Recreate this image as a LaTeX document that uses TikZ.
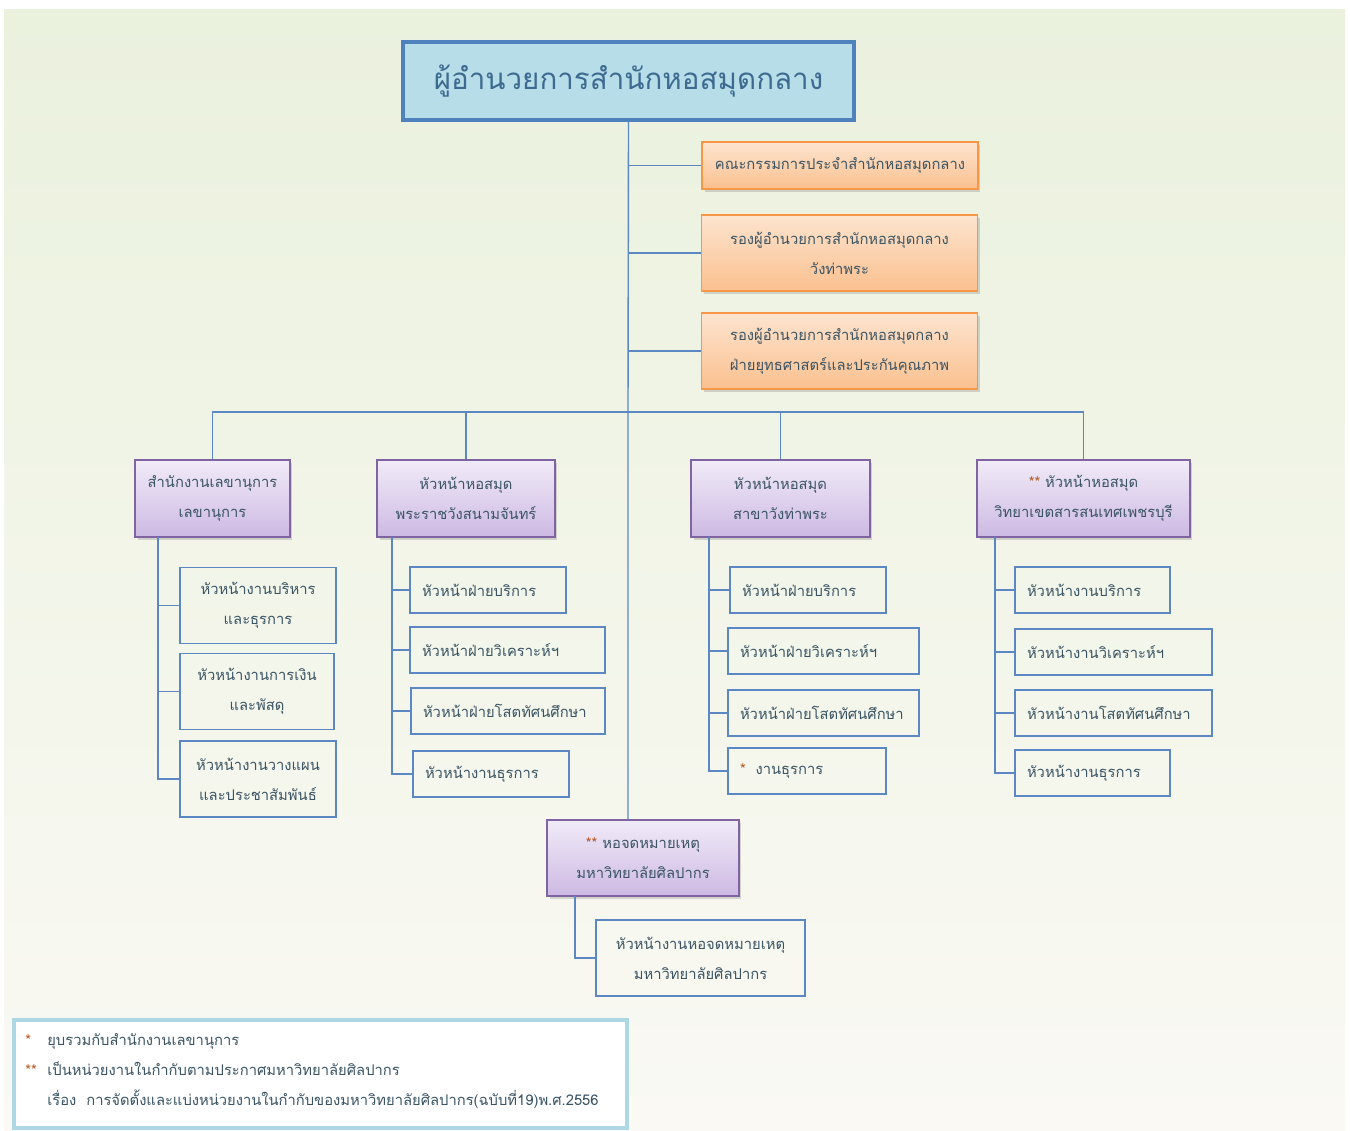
\documentclass[tikz,border=0pt]{standalone}
\usepackage{fontspec}
\setmainfont{Loma}[Script=Thai]
\usetikzlibrary{positioning, shadows}
\definecolor{linkblue}{HTML}{5B88C2}
\definecolor{chiefline}{HTML}{4F81BD}
\definecolor{chieffill}{HTML}{B7DDE8}
\definecolor{chieftext}{HTML}{3D6A90}
\definecolor{boardline}{HTML}{F79646}
\definecolor{boardtop}{HTML}{FDE4CF}
\definecolor{boardbot}{HTML}{FAC08F}
\definecolor{libline}{HTML}{8064A2}
\definecolor{libtop}{HTML}{F1EBF8}
\definecolor{libbot}{HTML}{CDB9E3}
\definecolor{notefrm}{HTML}{ADD8E3}
\definecolor{bgtop}{HTML}{EAF1DD}
\definecolor{bgbot}{HTML}{FAF9F4}
\definecolor{ink}{HTML}{3A5464}
\definecolor{starcol}{HTML}{B5541C}
\tikzset{x=0.02cm, y=-0.02cm,
every node/.style={text=ink, font=\fontsize{8.4}{17}\selectfont},
link/.style={draw=linkblue, line width=0.8pt},
chief/.style={draw=chiefline, line width=1.8pt, fill=chieffill, minimum width=9.02cm, minimum height=1.56cm,
  font=\fontsize{16.8}{20}\selectfont, text=chieftext},
board/.style={draw=boardline, line width=0.8pt, top color=boardtop, bottom color=boardbot, align=center,
  minimum width=5.52cm, drop shadow={shadow xshift=0.05cm, shadow yshift=-0.06cm, opacity=0.3}},
library/.style={draw=libline, line width=0.8pt, top color=libtop, bottom color=libbot, align=center,
  minimum height=1.54cm, drop shadow={shadow xshift=0.05cm, shadow yshift=-0.06cm, opacity=0.3}},
unit/.style={draw=linkblue, line width=0.8pt, inner xsep=0.24cm, align=left, minimum height=0.92cm},
pair/.style={draw=linkblue, line width=0.8pt, align=center, minimum height=1.52cm},
}
\newcommand{\stars}[1]{\textcolor{starcol}{#1}}

\begin{document}
\begin{tikzpicture}
\fill[white] (0,0) rectangle (1350,1131);
\shade[top color=bgtop, bottom color=bgbot] (4,10) rectangle (1345,1131);

\node[chief] (dir) at (628.5,81) {ผู้อำนวยการสำนักหอสมุดกลาง};
\node[board, minimum height=0.94cm] (com) at (840,165.5) {คณะกรรมการประจำสำนักหอสมุดกลาง};
\node[board, minimum height=1.52cm] (dep1) at (839.5,253) {รองผู้อำนวยการสำนักหอสมุดกลาง\\วังท่าพระ};
\node[board, minimum height=1.52cm] (dep2) at (839.5,351) {รองผู้อำนวยการสำนักหอสมุดกลาง\\ฝ่ายยุทธศาสตร์และประกันคุณภาพ};

\node[library, minimum width=3.1cm] (lib1) at (212.5,498.5) {สำนักงานเลขานุการ\\เลขานุการ};
\node[library, minimum width=3.56cm] (lib2) at (466,498.5) {หัวหน้าหอสมุด\\พระราชวังสนามจันทร์};
\node[library, minimum width=3.58cm] (lib3) at (780.5,498.5) {หัวหน้าหอสมุด\\สาขาวังท่าพระ};
\node[library, minimum width=4.26cm] (lib4) at (1083.5,498.5) {\stars{**} หัวหน้าหอสมุด\\วิทยาเขตสารสนเทศเพชรบุรี};
\node[library, minimum width=3.84cm, minimum height=1.52cm] (law) at (643,858) {\stars{**} หอจดหมายเหตุ\\มหาวิทยาลัยศิลปากร};

\node[pair, minimum width=3.12cm] (a1) at (258,605.5) {หัวหน้างานบริหาร\\และธุรการ};
\node[pair, minimum width=3.08cm] (a2) at (257,691.5) {หัวหน้างานการเงิน\\และพัสดุ};
\node[pair, minimum width=3.12cm] (a3) at (258,779) {หัวหน้างานวางแผน\\และประชาสัมพันธ์};

\node[unit, text width=2.64cm] (b1) at (488,590) {หัวหน้าฝ่ายบริการ};
\node[unit, text width=3.42cm] (b2) at (507.5,650) {หัวหน้าฝ่ายวิเคราะห์ฯ};
\node[unit, text width=3.4cm] (b3) at (508,711) {หัวหน้าฝ่ายโสตทัศนศึกษา};
\node[unit, text width=2.64cm] (b4) at (491,774) {หัวหน้างานธุรการ};

\node[unit, text width=2.64cm] (c1) at (808,590) {หัวหน้าฝ่ายบริการ};
\node[unit, text width=3.34cm] (c2) at (823.5,651) {หัวหน้าฝ่ายวิเคราะห์ฯ};
\node[unit, text width=3.34cm] (c3) at (823.5,713) {หัวหน้าฝ่ายโสตทัศนศึกษา};
\node[unit, text width=2.68cm] (c4) at (807,771) {\stars{*}\ \ งานธุรการ};

\node[unit, text width=2.62cm] (d1) at (1092.5,590) {หัวหน้างานบริการ};
\node[unit, text width=3.46cm] (d2) at (1113.5,652) {หัวหน้างานวิเคราะห์ฯ};
\node[unit, text width=3.46cm] (d3) at (1113.5,713) {หัวหน้างานโสตทัศนศึกษา};
\node[unit, text width=2.62cm] (d4) at (1092.5,773) {หัวหน้างานธุรการ};

\node[pair, minimum width=4.18cm] (lawsub) at (700.5,958) {หัวหน้างานหอจดหมายเหตุ\\มหาวิทยาลัยศิลปากร};

\coordinate (hub) at (628,412);
\draw[link] (dir.south) -- (hub) -- (hub |- law.north);
\draw[link] (dir.south) |- (com.west);
\draw[link] (dir.south) |- (dep1.west);
\draw[link] (dir.south) |- (dep2.west);
\draw[link] (lib1.north) |- (hub) -| (lib4.north);
\draw[link] (hub) -| (lib2.north);
\draw[link] (hub) -| (lib3.north);

\coordinate (sa) at (158,537);
\coordinate (sb) at (392,537);
\coordinate (sc) at (709,537);
\coordinate (sd) at (995,537);
\coordinate (sl) at (575,896);
\foreach \n in {a1,a2,a3} \draw[link] (sa) |- (\n.west);
\foreach \n in {b1,b2,b3,b4} \draw[link] (sb) |- (\n.west);
\foreach \n in {c1,c2,c3,c4} \draw[link] (sc) |- (\n.west);
\foreach \n in {d1,d2,d3,d4} \draw[link] (sd) |- (\n.west);
\draw[link] (sl) |- (lawsub.west);

\draw[draw=notefrm, line width=2.2pt, fill=white] (14,1020) rectangle (627,1128);
\node[anchor=north west, align=left, inner sep=0pt] (note) at (25,1033)
 {\makebox[0.44cm][l]{\stars{*}}ยุบรวมกับสำนักงานเลขานุการ\\
  \makebox[0.44cm][l]{\stars{**}}เป็นหน่วยงานในกำกับตามประกาศมหาวิทยาลัยศิลปากร\\
  \makebox[0.44cm][l]{}เรื่อง\ \ การจัดตั้งและแบ่งหน่วยงานในกำกับของมหาวิทยาลัยศิลปากร(ฉบับที่19)พ.ศ.2556};
\end{tikzpicture}
\end{document}
